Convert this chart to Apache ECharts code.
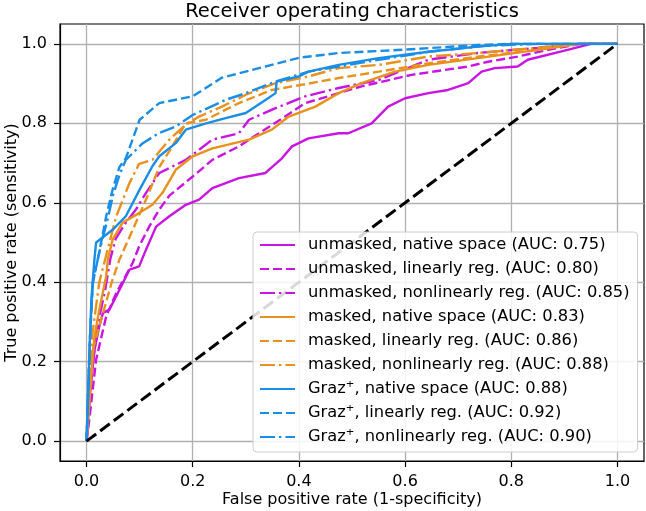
<!DOCTYPE html>
<html>
<head>
<meta charset="utf-8">
<script src="https://cdn.jsdelivr.net/npm/echarts@6/dist/echarts.min.js"></script>
<style>
  html, body { margin: 0; padding: 0; background: #fff; }
  #chart { width: 646px; height: 511px; }
</style>
</head>
<body>
<div id="chart"></div>
<script>
// ROC curves (false positive rate -> true positive rate)
const unmaskedNativeFpr = [0, 0.006, 0.015, 0.024, 0.031, 0.043, 0.059, 0.081, 0.099, 0.112, 0.131, 0.156, 0.187, 0.212, 0.237, 0.287, 0.337, 0.368, 0.387, 0.418, 0.475, 0.493, 0.537, 0.568, 0.6, 0.644, 0.681, 0.719, 0.744, 0.769, 0.812, 0.831, 0.906, 0.95, 1];
const unmaskedNativeTpr = [0, 0.113, 0.23, 0.289, 0.323, 0.331, 0.373, 0.432, 0.44, 0.482, 0.54, 0.566, 0.595, 0.608, 0.637, 0.662, 0.675, 0.712, 0.742, 0.762, 0.775, 0.775, 0.8, 0.842, 0.863, 0.876, 0.884, 0.901, 0.93, 0.939, 0.943, 0.96, 0.985, 1, 1];

const unmaskedLinearFpr = [0, 0.006, 0.018, 0.037, 0.056, 0.087, 0.099, 0.118, 0.137, 0.156, 0.2, 0.237, 0.287, 0.325, 0.368, 0.412, 0.475, 0.518, 0.612, 0.719, 0.756, 0.812, 0.869, 0.93, 1];
const unmaskedLinearTpr = [0, 0.063, 0.205, 0.314, 0.373, 0.449, 0.49, 0.54, 0.583, 0.618, 0.666, 0.708, 0.742, 0.775, 0.812, 0.851, 0.876, 0.893, 0.922, 0.943, 0.955, 0.968, 0.985, 1, 1];

const unmaskedNonlinearFpr = [0, 0.01, 0.022, 0.035, 0.045, 0.055, 0.074, 0.093, 0.112, 0.137, 0.187, 0.237, 0.287, 0.306, 0.356, 0.412, 0.475, 0.55, 0.644, 0.737, 0.85, 0.92, 1];
const unmaskedNonlinearTpr = [0, 0.18, 0.3, 0.38, 0.46, 0.51, 0.55, 0.583, 0.625, 0.675, 0.708, 0.759, 0.775, 0.809, 0.838, 0.868, 0.889, 0.909, 0.96, 0.977, 0.99, 1, 1];

const maskedNativeFpr = [0, 0.008, 0.015, 0.024, 0.037, 0.04, 0.049, 0.068, 0.099, 0.124, 0.143, 0.168, 0.2, 0.237, 0.306, 0.349, 0.381, 0.431, 0.475, 0.518, 0.581, 0.644, 0.737, 0.85, 0.93, 1];
const maskedNativeTpr = [0, 0.15, 0.264, 0.331, 0.415, 0.457, 0.507, 0.55, 0.574, 0.595, 0.625, 0.683, 0.717, 0.737, 0.759, 0.784, 0.817, 0.842, 0.876, 0.901, 0.93, 0.947, 0.964, 0.985, 1, 1];

const maskedLinearFpr = [0, 0.006, 0.012, 0.031, 0.049, 0.062, 0.087, 0.112, 0.137, 0.156, 0.187, 0.225, 0.287, 0.349, 0.418, 0.475, 0.55, 0.644, 0.737, 0.85, 0.9, 1];
const maskedLinearTpr = [0, 0.12, 0.23, 0.323, 0.407, 0.457, 0.532, 0.608, 0.69, 0.73, 0.8, 0.809, 0.851, 0.884, 0.9, 0.914, 0.93, 0.951, 0.968, 0.985, 1, 1];

const maskedNonlinearFpr = [0, 0.005, 0.011, 0.024, 0.043, 0.056, 0.081, 0.099, 0.124, 0.156, 0.187, 0.212, 0.255, 0.3, 0.356, 0.418, 0.475, 0.55, 0.644, 0.737, 0.85, 0.92, 1];
const maskedNonlinearTpr = [0, 0.15, 0.27, 0.4, 0.499, 0.566, 0.65, 0.698, 0.708, 0.759, 0.797, 0.817, 0.842, 0.872, 0.901, 0.918, 0.939, 0.947, 0.968, 0.977, 0.99, 1, 1];

const grazNativeFpr = [0, 0.005, 0.009, 0.015, 0.018, 0.049, 0.074, 0.1, 0.124, 0.137, 0.168, 0.187, 0.225, 0.262, 0.3, 0.337, 0.356, 0.358, 0.4, 0.418, 0.475, 0.55, 0.644, 0.737, 0.8, 1];
const grazNativeTpr = [0, 0.2, 0.356, 0.46, 0.5, 0.532, 0.566, 0.633, 0.692, 0.717, 0.75, 0.784, 0.8, 0.813, 0.826, 0.859, 0.876, 0.905, 0.918, 0.93, 0.947, 0.964, 0.98, 0.993, 1, 1];

const grazLinearFpr = [0, 0.006, 0.012, 0.021, 0.031, 0.037, 0.049, 0.062, 0.074, 0.1, 0.137, 0.2, 0.255, 0.287, 0.337, 0.4, 0.475, 0.593, 0.737, 0.8, 1];
const grazLinearTpr = [0, 0.25, 0.4, 0.457, 0.524, 0.566, 0.633, 0.69, 0.712, 0.809, 0.851, 0.868, 0.915, 0.926, 0.943, 0.965, 0.977, 0.985, 0.997, 1, 1];

const grazNonlinearFpr = [0, 0.006, 0.012, 0.02, 0.03, 0.04, 0.05, 0.062, 0.074, 0.106, 0.137, 0.168, 0.2, 0.262, 0.3, 0.356, 0.418, 0.475, 0.55, 0.644, 0.75, 0.85, 1];
const grazNonlinearTpr = [0, 0.25, 0.4, 0.45, 0.51, 0.56, 0.62, 0.67, 0.708, 0.75, 0.776, 0.792, 0.821, 0.859, 0.876, 0.905, 0.93, 0.943, 0.96, 0.98, 0.995, 1, 1];

const chanceFpr = [0, 1];
const chanceTpr = [0, 1];

const seriesNames = [
  'unmasked, native space (AUC: 0.75)',
  'unmasked, linearly reg. (AUC: 0.80)',
  'unmasked, nonlinearly reg. (AUC: 0.85)',
  'masked, native space (AUC: 0.83)',
  'masked, linearly reg. (AUC: 0.86)',
  'masked, nonlinearly reg. (AUC: 0.88)',
  'Graz\u207A, native space (AUC: 0.88)',
  'Graz\u207A, linearly reg. (AUC: 0.92)',
  'Graz\u207A, nonlinearly reg. (AUC: 0.90)'
];
const tickValues = [0, 0.2, 0.4, 0.6, 0.8, 1.0];

const MAGENTA = '#c914e3';
const ORANGE = '#e8911e';
const BLUE = '#1a8ee6';
const SOLID = 'solid';
const DASHED = [9, 4];
const DASHDOT = [15, 4, 2.4, 4];
const FONT = 'DejaVu Sans';

const zip = (xs, ys) => xs.map((x, i) => [x, ys[i]]);

const curves = [
  [unmaskedNativeFpr, unmaskedNativeTpr, MAGENTA, SOLID],
  [unmaskedLinearFpr, unmaskedLinearTpr, MAGENTA, DASHED],
  [unmaskedNonlinearFpr, unmaskedNonlinearTpr, MAGENTA, DASHDOT],
  [maskedNativeFpr, maskedNativeTpr, ORANGE, SOLID],
  [maskedLinearFpr, maskedLinearTpr, ORANGE, DASHED],
  [maskedNonlinearFpr, maskedNonlinearTpr, ORANGE, DASHDOT],
  [grazNativeFpr, grazNativeTpr, BLUE, SOLID],
  [grazLinearFpr, grazLinearTpr, BLUE, DASHED],
  [grazNonlinearFpr, grazNonlinearTpr, BLUE, DASHDOT]
];

const series = curves.map(([fx, ty, color, type], i) => ({
  name: seriesNames[i],
  type: 'line',
  data: zip(fx, ty),
  symbol: 'none',
  color: color,
  lineStyle: { color: color, width: 2.4, type: type },
  emphasis: { disabled: true }
}));

series.push({
  name: 'chance',
  type: 'line',
  data: zip(chanceFpr, chanceTpr),
  symbol: 'none',
  color: '#000',
  lineStyle: { color: '#000', width: 3, type: [12, 5] },
  emphasis: { disabled: true }
});

const axisCommon = {
  type: 'value',
  min: -0.05,
  max: 1.05,
  axisLine: { show: true, onZero: false, lineStyle: { color: '#000', width: 1.2 } },
  axisTick: { show: true, customValues: tickValues, length: 6, lineStyle: { color: '#000', width: 1.2 } },
  axisLabel: { customValues: tickValues, formatter: (v) => v.toFixed(1), color: '#000', fontSize: 16, fontFamily: FONT },
  splitLine: { show: true, lineStyle: { color: '#b0b0b0', width: 1.3 } },
  nameLocation: 'middle',
  nameMoveOverlap: false,
  nameTextStyle: { color: '#000', fontSize: 16, fontFamily: FONT }
};

const chart = echarts.init(document.getElementById('chart'), null, { renderer: 'canvas' });
chart.setOption({
  animation: false,
  title: {
    text: 'Receiver operating characteristics',
    left: 352,
    textAlign: 'center',
    top: 2,
    padding: 0,
    textStyle: { color: '#000', fontSize: 19.5, fontWeight: 'normal', fontFamily: FONT }
  },
  grid: {
    left: 60, right: 2, top: 24, bottom: 50,
    outerBoundsMode: 'none',
    containLabel: false,
    show: true, borderColor: '#000', borderWidth: 1.2, backgroundColor: 'transparent'
  },
  xAxis: Object.assign({}, axisCommon, {
    name: 'False positive rate (1-specificity)',
    nameGap: 31,
    axisLabel: Object.assign({}, axisCommon.axisLabel, { margin: 13 })
  }),
  yAxis: Object.assign({}, axisCommon, {
    name: 'True positive rate (sensitivity)',
    nameGap: 40,
    nameRotate: 90,
    axisLabel: Object.assign({}, axisCommon.axisLabel, { margin: 13 })
  }),
  legend: {
    data: seriesNames,
    orient: 'vertical',
    left: 253,
    top: 232,
    itemWidth: 35,
    itemHeight: 14,
    itemGap: 6,
    padding: [4, 8, 6, 6],
    selectedMode: false,
    itemStyle: { opacity: 0 },
    backgroundColor: 'rgba(255,255,255,0.85)',
    borderColor: '#cccccc',
    borderWidth: 1,
    borderRadius: 4,
    textStyle: { color: '#000', fontSize: 16.3, lineHeight: 18, fontFamily: FONT, padding: [0, 0, 0, 8] }
  },
  series: series
});
</script>
</body>
</html>
